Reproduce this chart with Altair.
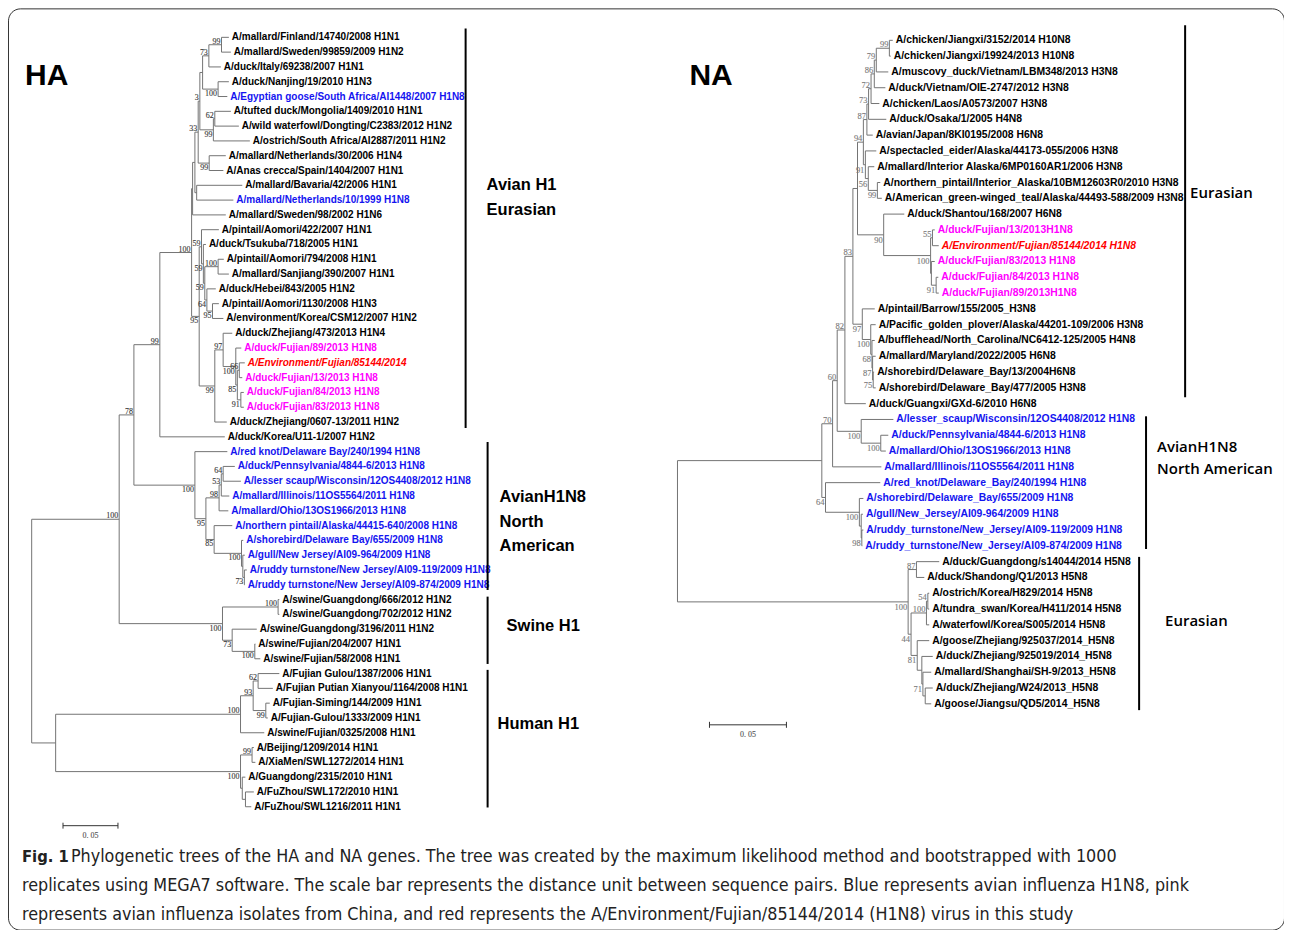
import altair as alt
import pandas as pd

# ---------------- HA tree: internal nodes (distance from root, subst./site) ----------------
HA_NODE_NAMES = ["r", "h", "a100", "a78", "a99", "e100", "e1", "e2", "e33", "e3",
                 "e4", "e73", "e99a", "eNan", "e99b", "e62", "e99c", "eBav", "e95", "e59a",
                 "e59b", "e59c", "eAom", "e64", "e95b", "z99", "z97", "f100", "f85", "f66",
                 "f91", "n100", "n95", "n98", "n53", "n64", "n85", "n100b", "n1", "n73",
                 "s100", "s100a", "s73", "s100b", "h100a", "h93", "h62", "h99", "h100b", "h99b",
                 "h1", "hFZ"]
HA_NODE_PARENTS = [None, "r", "r", "a100", "a78", "a99", "e100", "e1", "e2", "e33",
                   "e3", "e4", "e73", "e4", "e3", "e99b", "e33", "e2", "e100", "e95",
                   "e59a", "e59b", "e59c", "e59c", "e64", "e95", "z99", "z97", "f100", "f85",
                   "f85", "a78", "n100", "n95", "n98", "n53", "n95", "n85", "n100b", "n1",
                   "a100", "s100", "s100", "s73", "h", "h100a", "h93", "h93", "h", "h100b",
                   "h100b", "h1"]
HA_NODE_DEPTHS = [0, 0.0218, 0.0796, 0.0930, 0.1166, 0.1455, 0.1464, 0.1485, 0.1515, 0.1530,
                  0.1555, 0.1612, 0.1727, 0.1696, 0.1653, 0.1666, 0.1615, 0.1501, 0.1524, 0.1545,
                  0.1562, 0.1575, 0.1696, 0.1594, 0.1645, 0.1666, 0.1742, 0.1857, 0.1871, 0.1889,
                  0.1903, 0.1485, 0.1585, 0.1705, 0.1725, 0.1742, 0.1660, 0.1909, 0.1921, 0.1935,
                  0.1736, 0.2242, 0.1824, 0.2030, 0.1900, 0.2015, 0.2060, 0.2130, 0.1900, 0.2005,
                  0.1916, 0.1945]
HA_NODE_SUPPORT = ["", "", "100", "78", "99", "100", "", "", "33", "3",
                   "", "73", "99", "100", "99", "62", "99", "", "95", "59",
                   "59", "59", "100", "64", "95", "99", "97", "100", "85", "66",
                   "91", "100", "95", "98", "53", "64", "85", "100", "", "73",
                   "100", "100", "73", "100", "100", "93", "62", "99", "100", "99",
                   "", ""]

# ---------------- HA tree: leaves (top to bottom) ----------------
HA_TIP_LABELS = [
    "A/mallard/Finland/14740/2008 H1N1", "A/mallard/Sweden/99859/2009 H1N2",
    "A/duck/Italy/69238/2007 H1N1", "A/duck/Nanjing/19/2010 H1N3",
    "A/Egyptian goose/South Africa/AI1448/2007 H1N8", "A/tufted duck/Mongolia/1409/2010 H1N1",
    "A/wild waterfowl/Dongting/C2383/2012 H1N2", "A/ostrich/South Africa/AI2887/2011 H1N2",
    "A/mallard/Netherlands/30/2006 H1N4", "A/Anas crecca/Spain/1404/2007 H1N1",
    "A/mallard/Bavaria/42/2006 H1N1", "A/mallard/Netherlands/10/1999 H1N8",
    "A/mallard/Sweden/98/2002 H1N6", "A/pintail/Aomori/422/2007 H1N1",
    "A/duck/Tsukuba/718/2005 H1N1", "A/pintail/Aomori/794/2008 H1N1",
    "A/mallard/Sanjiang/390/2007 H1N1", "A/duck/Hebei/843/2005 H1N2",
    "A/pintail/Aomori/1130/2008 H1N3", "A/environment/Korea/CSM12/2007 H1N2",
    "A/duck/Zhejiang/473/2013 H1N4", "A/duck/Fujian/89/2013 H1N8",
    "A/Environment/Fujian/85144/2014", "A/duck/Fujian/13/2013 H1N8",
    "A/duck/Fujian/84/2013 H1N8", "A/duck/Fujian/83/2013 H1N8",
    "A/duck/Zhejiang/0607-13/2011 H1N2", "A/duck/Korea/U11-1/2007 H1N2",
    "A/red knot/Delaware Bay/240/1994 H1N8", "A/duck/Pennsylvania/4844-6/2013 H1N8",
    "A/lesser scaup/Wisconsin/12OS4408/2012 H1N8", "A/mallard/Illinois/11OS5564/2011 H1N8",
    "A/mallard/Ohio/13OS1966/2013 H1N8", "A/northern pintail/Alaska/44415-640/2008 H1N8",
    "A/shorebird/Delaware Bay/655/2009 H1N8", "A/gull/New Jersey/AI09-964/2009 H1N8",
    "A/ruddy turnstone/New Jersey/AI09-119/2009 H1N8", "A/ruddy turnstone/New Jersey/AI09-874/2009 H1N8",
    "A/swine/Guangdong/666/2012 H1N2", "A/swine/Guangdong/702/2012 H1N2",
    "A/swine/Guangdong/3196/2011 H1N2", "A/swine/Fujian/204/2007 H1N1",
    "A/swine/Fujian/58/2008 H1N1", "A/Fujian Gulou/1387/2006 H1N1",
    "A/Fujian Putian Xianyou/1164/2008 H1N1", "A/Fujian-Siming/144/2009 H1N1",
    "A/Fujian-Gulou/1333/2009 H1N1", "A/swine/Fujian/0325/2008 H1N1",
    "A/Beijing/1209/2014 H1N1", "A/XiaMen/SWL1272/2014 H1N1",
    "A/Guangdong/2315/2010 H1N1", "A/FuZhou/SWL172/2010 H1N1",
    "A/FuZhou/SWL1216/2011 H1N1"]
HA_TIP_PARENTS = ["e99a", "e99a", "e73", "eNan", "eNan", "e62", "e62", "e99b", "e99c", "e99c",
                  "eBav", "eBav", "e1", "e59a", "e59b", "eAom", "eAom", "e64", "e95b", "e95b",
                  "z97", "f100", "f66", "f66", "f91", "f91", "z99", "a99", "n100", "n64",
                  "n64", "n53", "n98", "n85", "n100b", "n1", "n73", "n73", "s100a", "s100a",
                  "s73", "s100b", "s100b", "h62", "h62", "h99", "h99", "h100a", "h99b", "h99b",
                  "h1", "hFZ", "hFZ"]
HA_TIP_DEPTHS = [0.1794, 0.1812, 0.1721, 0.1794, 0.1780, 0.1812, 0.1885, 0.1985, 0.1766, 0.1744,
                 0.1916, 0.1835, 0.1766, 0.1703, 0.1585, 0.1748, 0.1794, 0.1675, 0.1703, 0.1744,
                 0.1825, 0.1907, 0.1939, 0.1916, 0.1930, 0.1930, 0.1775, 0.1757, 0.1780, 0.1848,
                 0.1903, 0.1798, 0.1789, 0.1825, 0.1925, 0.1939, 0.1957, 0.1939, 0.2253, 0.2253,
                 0.2048, 0.2035, 0.2080, 0.2253, 0.2194, 0.2166, 0.2148, 0.2116, 0.2021, 0.2035,
                 0.1944, 0.2021, 0.1998]
HA_TIP_GROUPS = (["k"] * 4 + ["b"] + ["k"] * 6 + ["b"] + ["k"] * 9 + ["p", "r", "p", "p", "p"]
                 + ["k"] * 2 + ["b"] * 10 + ["k"] * 15)

HA_CLADE_NAMES = [["Avian H1", "Eurasian"], ["AvianH1N8", "North", "American"],
                  ["Swine H1"], ["Human H1"]]
HA_CLADE_FIRST = [0, 28, 38, 43]
HA_CLADE_LAST = [26, 37, 42, 52]

# ---------------- NA tree: internal nodes ----------------
NA_NODE_NAMES = ["R", "B", "n70", "n60", "n82", "n83", "nU", "n94", "n87", "n73",
                 "n72", "n86", "n79", "n99j", "n91", "n56", "n99t", "n90", "nF", "n55",
                 "nX", "n91f", "n97", "nP", "n68", "n87b", "n75", "nLS", "nLS2", "n64",
                 "nSB", "nG", "n98", "nH", "n87h", "n44", "nK", "n54", "n81", "nY",
                 "n71", "nZ"]
NA_NODE_PARENTS = [None, "R", "B", "n70", "n60", "n82", "n83", "nU", "n94", "n87",
                   "n73", "n72", "n86", "n79", "n94", "n91", "n56", "nU", "n90", "nF",
                   "nF", "nX", "n83", "n97", "nP", "n68", "n87b", "n60", "nLS", "B",
                   "n64", "nSB", "nG", "R", "nH", "nH", "n44", "nK", "n44", "n81",
                   "nY", "n71"]
NA_NODE_DEPTHS = [0, 0.0938, 0.1008, 0.1038, 0.1088, 0.1140, 0.1170, 0.1208, 0.1231, 0.1242,
                  0.1258, 0.1279, 0.1292, 0.1377, 0.1221, 0.1240, 0.1299, 0.1340, 0.1645, 0.1657,
                  0.1650, 0.1681, 0.1201, 0.1256, 0.1264, 0.1268, 0.1272, 0.1194, 0.1321, 0.0962,
                  0.1182, 0.1194, 0.1198, 0.1499, 0.1553, 0.1518, 0.1618, 0.1627, 0.1558, 0.1588,
                  0.1595, 0.1610]
NA_NODE_SUPPORT = ["", "", "70", "60", "82", "83", "", "94", "87", "73",
                   "72", "86", "79", "99", "91", "56", "99", "90", "100", "55",
                   "", "91", "97", "100", "68", "87", "75", "100", "100", "64",
                   "100", "", "98", "100", "87", "44", "100", "54", "81", "",
                   "71", ""]

NA_TIP_LABELS = [
    "A/chicken/Jiangxi/3152/2014 H10N8", "A/chicken/Jiangxi/19924/2013 H10N8",
    "A/muscovy_duck/Vietnam/LBM348/2013 H3N8", "A/duck/Vietnam/OIE-2747/2012 H3N8",
    "A/chicken/Laos/A0573/2007 H3N8", "A/duck/Osaka/1/2005 H4N8",
    "A/avian/Japan/8KI0195/2008 H6N8", "A/spectacled_eider/Alaska/44173-055/2006 H3N8",
    "A/mallard/Interior Alaska/6MP0160AR1/2006 H3N8",
    "A/northern_pintail/Interior_Alaska/10BM12603R0/2010 H3N8",
    "A/American_green-winged_teal/Alaska/44493-588/2009 H3N8", "A/duck/Shantou/168/2007 H6N8",
    "A/duck/Fujian/13/2013H1N8", "A/Environment/Fujian/85144/2014 H1N8",
    "A/duck/Fujian/83/2013 H1N8", "A/duck/Fujian/84/2013 H1N8",
    "A/duck/Fujian/89/2013H1N8", "A/pintail/Barrow/155/2005_H3N8",
    "A/Pacific_golden_plover/Alaska/44201-109/2006 H3N8",
    "A/bufflehead/North_Carolina/NC6412-125/2005 H4N8", "A/mallard/Maryland/2022/2005 H6N8",
    "A/shorebird/Delaware_Bay/13/2004H6N8", "A/shorebird/Delaware_Bay/477/2005 H3N8",
    "A/duck/Guangxi/GXd-6/2010 H6N8", "A/lesser_scaup/Wisconsin/12OS4408/2012 H1N8",
    "A/duck/Pennsylvania/4844-6/2013  H1N8", "A/mallard/Ohio/13OS1966/2013 H1N8",
    "A/mallard/Illinois/11OS5564/2011 H1N8", "A/red_knot/Delaware_Bay/240/1994 H1N8",
    "A/shorebird/Delaware_Bay/655/2009 H1N8", "A/gull/New_Jersey/AI09-964/2009 H1N8",
    "A/ruddy_turnstone/New_Jersey/AI09-119/2009 H1N8",
    "A/ruddy_turnstone/New_Jersey/AI09-874/2009 H1N8", "A/duck/Guangdong/s14044/2014 H5N8",
    "A/duck/Shandong/Q1/2013 H5N8", "A/ostrich/Korea/H829/2014 H5N8",
    "A/tundra_swan/Korea/H411/2014 H5N8", "A/waterfowl/Korea/S005/2014 H5N8",
    "A/goose/Zhejiang/925037/2014_H5N8", "A/duck/Zhejiang/925019/2014_H5N8",
    "A/mallard/Shanghai/SH-9/2013_H5N8", "A/duck/Zhejiang/W24/2013_H5N8",
    "A/goose/Jiangsu/QD5/2014_H5N8"]
NA_TIP_PARENTS = ["n99j", "n99j", "n79", "n86", "n72", "n73", "n87", "n91", "n56", "n99t",
                  "n99t", "n90", "n55", "n55", "nX", "n91f", "n91f", "n97", "nP", "n68",
                  "n87b", "n75", "n75", "n82", "nLS", "nLS2", "nLS2", "n70", "n64", "nSB",
                  "nG", "n98", "n98", "n87h", "n87h", "n54", "n54", "nK", "n81", "nY",
                  "n71", "nZ", "nZ"]
NA_TIP_DEPTHS = [0.1399, 0.1386, 0.1370, 0.1351, 0.1312, 0.1357, 0.1269, 0.1292, 0.1279, 0.1318,
                 0.1328, 0.1474, 0.1672, 0.1698, 0.1672, 0.1695, 0.1698, 0.1282, 0.1288, 0.1282,
                 0.1288, 0.1278, 0.1288, 0.1224, 0.1403, 0.1370, 0.1354, 0.1325, 0.1318, 0.1208,
                 0.1205, 0.1208, 0.1201, 0.1701, 0.1604, 0.1636, 0.1636, 0.1636, 0.1636, 0.1659,
                 0.1649, 0.1659, 0.1649]
NA_TIP_GROUPS = (["k"] * 12 + ["p", "r", "p", "p", "p"] + ["k"] * 7 + ["b"] * 9 + ["k"] * 10)

NA_CLADE_NAMES = [["Eurasian"], ["AvianH1N8", " North American"], ["Eurasian"]]
NA_CLADE_FIRST = [0, 24, 33]
NA_CLADE_LAST = [22, 32, 42]

CAPTION_BOLD = "Fig. 1"
CAPTION_LINES = [
    "Phylogenetic trees of the HA and NA genes. The tree was created by the maximum likelihood method and bootstrapped with 1000",
    "replicates using MEGA7 software. The scale bar represents the distance unit between sequence pairs. Blue represents avian influenza H1N8, pink",
    "represents avian influenza isolates from China, and red represents the A/Environment/Fujian/85144/2014 (H1N8) virus in this study",
]
SCALE_BAR_LENGTH = 0.05
SCALE_BAR_TEXT = "0. 05"

# ---------------- layout / style ----------------
W, H = 1277, 922
GROUP_COLORS = alt.Scale(domain=["k", "b", "p", "r"],
                         range=["#000000", "#1414f0", "#ff00ff", "#ff0000"])
LINE_COLOR = "#737373"
SANS = "Liberation Sans"
SERIF = "Liberation Serif"
CAP_FONT = "DejaVu Sans Condensed"


def tree_tables(names, parents, depths, support, tip_parents, tip_depths):
    kids = {n: [] for n in names}
    for n, p in zip(names, parents):
        if p is not None:
            kids[p].append(("n", n))
    for i, p in enumerate(tip_parents):
        kids[p].append(("t", i))
    ny = {}

    def gety(kind, key):
        if kind == "t":
            return float(key)
        if key not in ny:
            vals = [gety(k, v) for k, v in kids[key]]
            ny[key] = (min(vals) + max(vals)) / 2.0
        return ny[key]

    for n in names:
        gety("n", n)
    dep = dict(zip(names, depths))
    segs = []
    for n, p in zip(names, parents):
        if p is not None:
            segs.append(dict(x=dep[p], x2=dep[n], y=ny[n], y2=ny[n]))
        vals = [gety(k, v) for k, v in kids[n]]
        segs.append(dict(x=dep[n], x2=dep[n], y=min(vals), y2=max(vals)))
    for i, (p, d) in enumerate(zip(tip_parents, tip_depths)):
        segs.append(dict(x=dep[p], x2=d, y=float(i), y2=float(i)))
    boots = []
    for n, p, s in zip(names, parents, support):
        if s and p is not None:
            boots.append(dict(x=dep[n], y=ny[n], label=s, upper=bool(ny[n] < ny[p])))
    return pd.DataFrame(segs), pd.DataFrame(boots)


def tree_chart(names, parents, depths, support, labels, tip_parents, tip_depths, groups,
               xs, ys, ppx, leaf_size, boot_size, boot_color,
               clade_names, clade_first, clade_last, bar_x, bar_pad, lab_dx, lab_y, lab_line,
               lab_font, lab_size, lab_weight, sb_x, sb_y, sb_px):
    segs, boots = tree_tables(names, parents, depths, support, tip_parents, tip_depths)
    tips = pd.DataFrame(dict(label=labels, x=tip_depths, y=list(range(len(labels))), group=groups))
    X = lambda f: alt.X(f, type="quantitative", scale=xs, axis=None)
    Y = lambda f: alt.Y(f, type="quantitative", scale=ys, axis=None)

    lines = alt.Chart(segs).mark_rule(color=LINE_COLOR, strokeWidth=1).encode(
        x=X("x"), x2="x2", y=Y("y"), y2="y2")
    tip_txt = alt.Chart(tips).transform_filter(alt.datum.group != "r").mark_text(
        align="left", baseline="middle", dx=3, font=SANS, fontSize=leaf_size, fontWeight="bold"
    ).encode(x=X("x"), y=Y("y"), text="label:N",
             color=alt.Color("group:N", scale=GROUP_COLORS, legend=None))
    tip_red = alt.Chart(tips).transform_filter(alt.datum.group == "r").mark_text(
        align="left", baseline="middle", dx=3, font=SANS, fontSize=leaf_size, fontWeight="bold",
        fontStyle="italic"
    ).encode(x=X("x"), y=Y("y"), text="label:N",
             color=alt.Color("group:N", scale=GROUP_COLORS, legend=None))
    b_up = alt.Chart(boots).transform_filter(alt.datum.upper).mark_text(
        align="right", baseline="bottom", dx=-1, dy=1, font=SERIF, fontSize=boot_size,
        fill=boot_color, stroke=boot_color, strokeWidth=0.12).encode(
        x=X("x"), y=Y("y"), text="label:N")
    b_dn = alt.Chart(boots).transform_filter(~alt.datum.upper).mark_text(
        align="right", baseline="top", dx=-1, dy=1, font=SERIF, fontSize=boot_size,
        fill=boot_color, stroke=boot_color, strokeWidth=0.12).encode(
        x=X("x"), y=Y("y"), text="label:N")

    bars = pd.DataFrame(dict(x=bar_x, y=[f - p[0] for f, p in zip(clade_first, bar_pad)],
                             y2=[l + p[1] for l, p in zip(clade_last, bar_pad)]))
    bar_layer = alt.Chart(bars).mark_rule(color="#000000", strokeWidth=2).encode(
        x=X("x"), y=Y("y"), y2="y2")

    rows = []
    for k, nm in enumerate(clade_names):
        n = len(nm)
        for j, t in enumerate(nm):
            rows.append(dict(text=t, x=bar_x[k] + lab_dx[k] / ppx,
                             y=lab_y[k] + (j - (n - 1) / 2.0) * lab_line[k]))
    clade_txt = alt.Chart(pd.DataFrame(rows)).mark_text(
        align="left", baseline="middle", font=lab_font, fontSize=lab_size,
        fontWeight=lab_weight, color="#000000").encode(x=X("x"), y=Y("y"), text="text:N")

    sb = pd.DataFrame(dict(x=[sb_x], x2=[sb_x + SCALE_BAR_LENGTH], y=[sb_y],
                           xm=[sb_x + SCALE_BAR_LENGTH / 2], lab=[SCALE_BAR_TEXT]))
    sb_line = alt.Chart(sb).mark_rule(color="#333333", strokeWidth=1).encode(
        x=X("x"), x2="x2", y=Y("y"))
    sb_ends = pd.DataFrame(dict(x=[sb_x, sb_x + SCALE_BAR_LENGTH], y=[sb_y - sb_px, sb_y - sb_px],
                                y2=[sb_y + sb_px, sb_y + sb_px]))
    sb_tick = alt.Chart(sb_ends).mark_rule(color="#333333", strokeWidth=1).encode(
        x=X("x"), y=Y("y"), y2="y2")
    sb_txt = alt.Chart(sb).mark_text(baseline="top", dy=6, font=SERIF, fontSize=8,
                                     fill="#555555", stroke="#555555", strokeWidth=0.12).encode(
        x=X("xm"), y=Y("y"), text="lab:N")
    return alt.layer(lines, tip_txt, tip_red, b_up, b_dn, bar_layer, clade_txt,
                     sb_line, sb_tick, sb_txt)


HA_XS = alt.Scale(domain=[0, 0.05], range=[23.7, 78.7], zero=False, nice=False)
HA_YS = alt.Scale(domain=[0, 52], range=[29, 799], zero=False, nice=False)
NA_XS = alt.Scale(domain=[0, 0.05], range=[670, 747], zero=False, nice=False)
NA_YS = alt.Scale(domain=[0, 42], range=[32, 696], zero=False, nice=False)

ha = tree_chart(HA_NODE_NAMES, HA_NODE_PARENTS, HA_NODE_DEPTHS, HA_NODE_SUPPORT,
                HA_TIP_LABELS, HA_TIP_PARENTS, HA_TIP_DEPTHS, HA_TIP_GROUPS,
                HA_XS, HA_YS, 1100.0, 10, 8, "#3a3a3a",
                HA_CLADE_NAMES, HA_CLADE_FIRST, HA_CLADE_LAST,
                bar_x=[0.3948, 0.4148, 0.4148, 0.4148],
                bar_pad=[(0.6, 0.4), (0.65, 0.35), (0.2, 0.35), (0.25, 0.05)],
                lab_dx=[21, 12, 19, 10], lab_y=[10.84, 32.75, 39.78, 46.39],
                lab_line=[24.5 / 14.808] * 4,
                lab_font=SANS, lab_size=16.5, lab_weight="bold",
                sb_x=0.0285, sb_y=53.28, sb_px=0.2)

na = tree_chart(NA_NODE_NAMES, NA_NODE_PARENTS, NA_NODE_DEPTHS, NA_NODE_SUPPORT,
                NA_TIP_LABELS, NA_TIP_PARENTS, NA_TIP_DEPTHS, NA_TIP_GROUPS,
                NA_XS, NA_YS, 1540.0, 10.4, 8.5, "#7a7a7a",
                NA_CLADE_NAMES, NA_CLADE_FIRST, NA_CLADE_LAST,
                bar_x=[0.3299, 0.3045, 0.3000],
                bar_pad=[(0.95, 0.6), (0.2, 0.2), (0.3, 0.4)],
                lab_dx=[5, 11, 26], lab_y=[9.68, 26.44, 36.75],
                lab_line=[22.0 / 15.81] * 3,
                lab_font="Open Sans", lab_size=15, lab_weight=600,
                sb_x=0.0208, sb_y=43.33, sb_px=0.19)

ha_title = alt.Chart(pd.DataFrame(dict(t=["HA"]))).mark_text(
    align="left", baseline="alphabetic", font=SANS, fontSize=30, fontWeight="bold"
).encode(text="t:N", x=alt.value(17), y=alt.value(77))
na_title = alt.Chart(pd.DataFrame(dict(t=["NA"]))).mark_text(
    align="left", baseline="alphabetic", font=SANS, fontSize=30, fontWeight="bold"
).encode(text="t:N", x=alt.value(682), y=alt.value(77))

cap_layers = [alt.Chart(pd.DataFrame(dict(t=[CAPTION_BOLD]))).mark_text(
    align="left", baseline="middle", font=CAP_FONT, fontSize=16.5, fontWeight="bold", color="#222222"
).encode(text="t:N", x=alt.value(14), y=alt.value(849))]
for i, line in enumerate(CAPTION_LINES):
    cap_layers.append(alt.Chart(pd.DataFrame(dict(t=[line]))).mark_text(
        align="left", baseline="middle", font=CAP_FONT, fontSize=17.8, color="#222222"
    ).encode(text="t:N", x=alt.value(63 if i == 0 else 14), y=alt.value(849 + 29 * i)))

chart = alt.layer(ha, na, ha_title, na_title, *cap_layers).resolve_scale(
    x="independent", y="independent"
).properties(width=W, height=H, padding=0, autosize="none", background="white"
).configure_view(stroke="#333333", strokeWidth=1, cornerRadius=12)

chart.save("out.html", embed_options={"renderer": "svg", "actions": False})
